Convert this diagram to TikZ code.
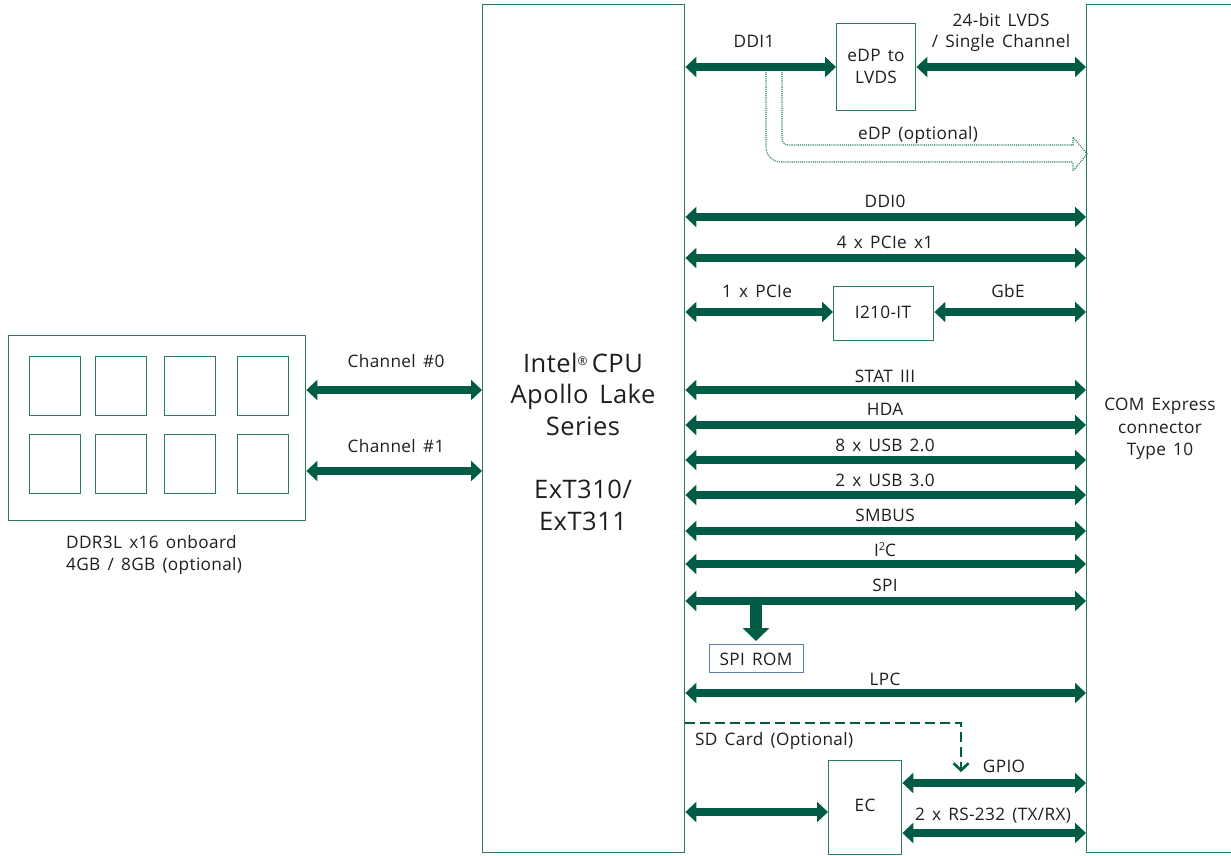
\documentclass[tikz,border=0pt]{standalone}
\usepackage{fontspec}
\setmainfont[WordSpace=1.5, LetterSpace=2]{Open Sans}
\usetikzlibrary{arrows.meta}
\definecolor{busg}{HTML}{005C45}
\definecolor{boxg}{HTML}{2A7A5E}
\definecolor{romb}{HTML}{5B7FA6}
\definecolor{txt}{HTML}{1E1E1E}
\newcommand{\myreg}{\raisebox{7pt}{\fontsize{12}{12}\selectfont\textregistered}}
\newcommand{\mysup}[1]{\raisebox{6pt}{\fontsize{11}{11}\selectfont #1}}
\begin{document}
\begin{tikzpicture}[x=1pt,y=-1pt,
  font=\fontsize{17.2}{22.5}\selectfont, text=txt,
  box/.style={draw=boxg, line width=1.4pt, inner sep=0pt, anchor=north west},
  chip/.style={draw=boxg, line width=1.4pt, inner sep=0pt, anchor=north west, minimum width=51pt, minimum height=59pt},
  bus/.style={draw=busg, line width=7.5pt, {Triangle[width=20pt,length=11pt]}-{Triangle[width=20pt,length=11pt]}},
  lbl/.style={anchor=base, inner sep=0pt}]
\useasboundingbox (0,0) rectangle (1231,855);

% main boxes
\node[box, minimum width=202pt, minimum height=848pt] (cpu) at (482,4) {};
\node[box, minimum width=160pt, minimum height=848pt] (com) at (1086,4) {};
\node[box, minimum width=297pt, minimum height=185pt] (ddr) at (8,335) {};

% CPU text
\node[lbl, font=\fontsize{25.5}{32}\selectfont] (t1) at (583,372) {Intel\myreg\,CPU};
\node[lbl, font=\fontsize{25.5}{32}\selectfont] (t2) at (583,403) {Apollo Lake};
\node[lbl, font=\fontsize{25.5}{32}\selectfont] (t3) at (583,435) {Series};
\node[lbl, font=\fontsize{25.5}{32}\selectfont] (t4) at (583,498) {ExT310/};
\node[lbl, font=\fontsize{25.5}{32}\selectfont] (t5) at (583,530) {ExT311};

% COM text
\node[lbl] (c1) at (1160,410) {COM Express};
\node[lbl] (c2) at (1160,433) {connector};
\node[lbl] (c3) at (1160,455) {Type 10};

% DDR chips
\foreach \cx [count=\i] in {29,95,164,237}{
  \node[chip] (ca\i) at (\cx,356) {};
  \node[chip] (cb\i) at (\cx,434) {};
}
\node[lbl, anchor=base west] (d1) at (66,548) {DDR3L x16 onboard};
\node[lbl, anchor=base west] (d2) at (66,570) {4GB / 8GB (optional)};

% Channels
\coordinate (ch0) at (0,390);
\coordinate (ch1) at (0,471);
\draw[bus] (ddr.east|-ch0) -- (cpu.west|-ch0);
\draw[bus] (ddr.east|-ch1) -- (cpu.west|-ch1);
\node[lbl] (lch0) at (396,367) {Channel \#0};
\node[lbl] (lch1) at (396,452) {Channel \#1};

% eDP to LVDS
\node[box, minimum width=79pt, minimum height=87pt] (edp) at (836,23) {};
\node[lbl] (e1) at (876,61) {eDP to};
\node[lbl] (e2) at (876,83) {LVDS};
\coordinate (rddi1) at (0,67);
\draw[bus] (cpu.east|-rddi1) -- (edp.west|-rddi1);
\draw[bus] (edp.east|-rddi1) -- (com.west|-rddi1);
\node[lbl] (lddi1) at (754,47) {DDI1};
\node[lbl] (llv1) at (1001,26) {24-bit LVDS};
\node[lbl] (llv2) at (1001,47) {/ Single Channel};

% eDP optional hollow dotted arrow
\coordinate (hd1) at (1073,137);
\coordinate (hd2) at (1087,154);
\coordinate (hd3) at (1073,171);
\draw[boxg, line width=1.1pt, densely dotted] (782,72) -- (782,139) arc[start angle=180, end angle=270, radius=6pt] -- (1073,145) -- (hd1) -- (hd2) -- (hd3) -- (1073,162);
\draw[boxg, line width=1.1pt, densely dotted] (766,72) -- (766,147) arc[start angle=180, end angle=270, radius=15pt] -- (1073,162);
\node[lbl] (ledp) at (918,139) {eDP (optional)};

% full-width buses
\foreach \y/\b/\t in {217/207/DDI0, 258/248/4 x PCIe x1, 390/382/STAT III, 425/415/HDA, 460/451/8 x USB 2.0, 495/486/2 x USB 3.0, 531/521/SMBUS, 564/556/I\mysup{2}C, 601/591/SPI, 693/685/LPC}{
  \coordinate (r) at (0,\y);
  \draw[bus] (cpu.east|-r) -- (com.west|-r);
  \node[lbl] at (885,\b) {\t};
}

% I210-IT
\node[box, minimum width=100pt, minimum height=54pt] (i210) at (833,286) {};
\node[lbl] (li210) at (883,318) {I210-IT};
\coordinate (rpcie) at (0,312);
\draw[bus] (cpu.east|-rpcie) -- (i210.west|-rpcie);
\draw[bus] (i210.east|-rpcie) -- (com.west|-rpcie);
\node[lbl] (lpcie) at (757,297) {1 x PCIe};
\node[lbl] (lgbe) at (1008,297) {GbE};

% SPI ROM
\node[draw=romb, line width=1.2pt, inner sep=0pt, anchor=north west, minimum width=94pt, minimum height=28pt] (rom) at (709,644) {};
\node[lbl] (lrom) at (756,665) {SPI ROM};
\coordinate (spit) at (756,598);
\draw[draw=busg, fill=busg, line width=12pt, -{Triangle[width=26pt,length=13pt]}] (spit) -- ([yshift=3pt]rom.north-|spit);

% SD card dashed
\coordinate (sd1) at (961,723);
\coordinate (sd2) at (961,772);
\draw[busg, line width=2.6pt, dash pattern=on 10pt off 5pt, -{Straight Barb[length=7pt,width=15pt]}] (cpu.east|-sd1) -- (sd1) -- (sd2);
\node[lbl, anchor=base west] (lsd) at (695,745) {SD Card (Optional)};

% EC
\node[box, minimum width=73pt, minimum height=94pt] (ec) at (828,760) {};
\node[lbl] (lec) at (865,811) {EC};
\coordinate (rec) at (0,812);
\draw[bus] (cpu.east|-rec) -- (ec.west|-rec);
\coordinate (rgp) at (0,783);
\draw[bus] (ec.east|-rgp) -- (com.west|-rgp);
\node[lbl] (lgp) at (1004,772) {GPIO};
\coordinate (rrs) at (0,833);
\draw[bus] (ec.east|-rrs) -- (com.west|-rrs);
\node[lbl] (lrs) at (993,820) {2 x RS-232 (TX/RX)};
\end{tikzpicture}
\end{document}
